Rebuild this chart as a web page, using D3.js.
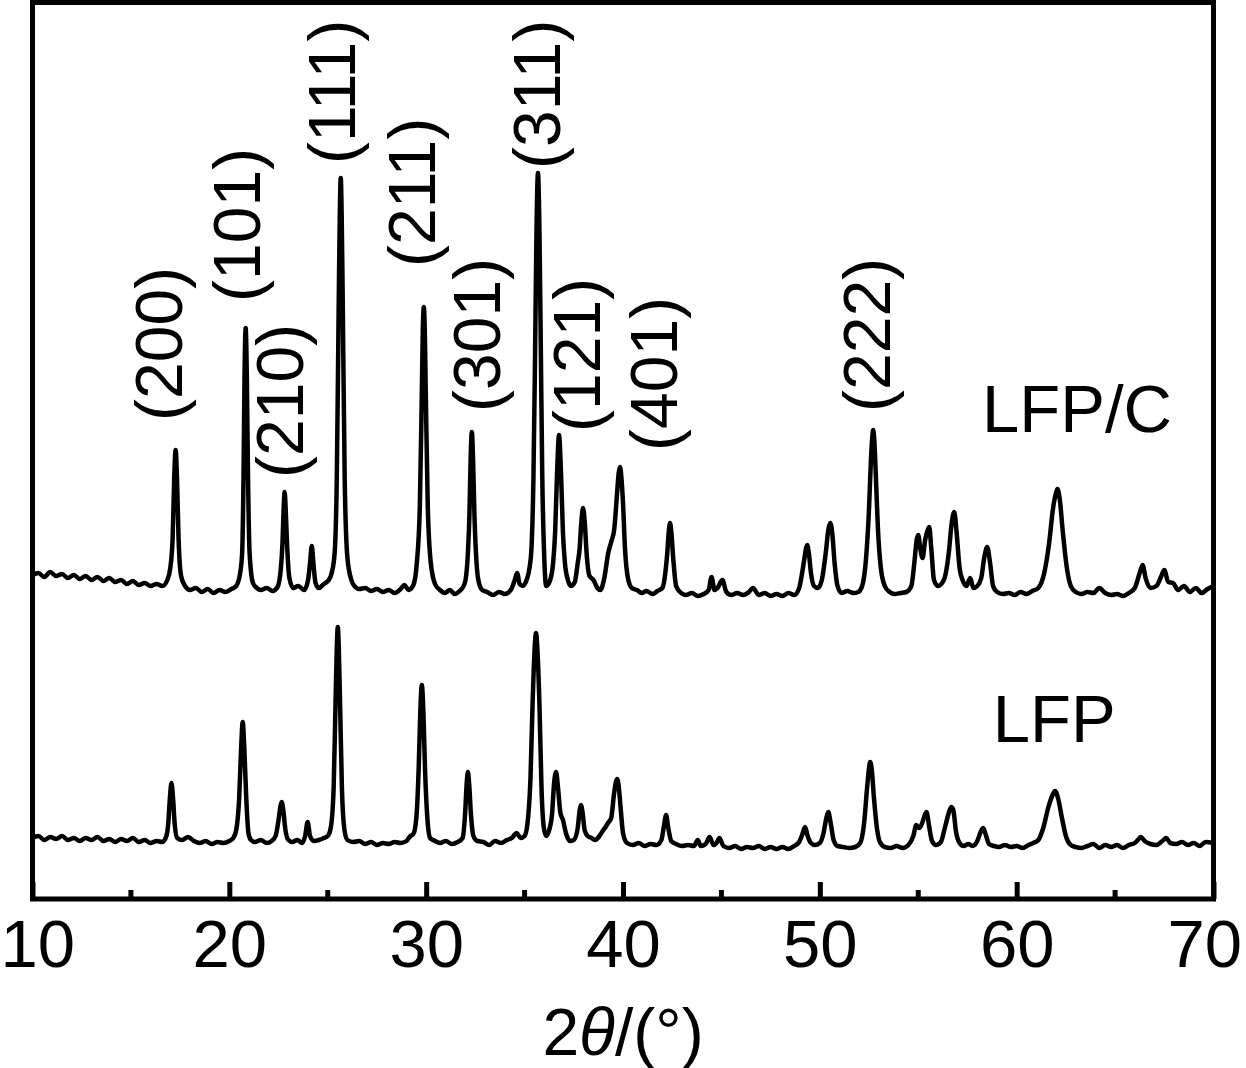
<!DOCTYPE html>
<html>
<head>
<meta charset="utf-8">
<script src="https://cdn.jsdelivr.net/npm/d3@7"></script>
<style>
  body { margin: 0; background: #fff; }
  text { font-family: "Liberation Sans", Arial, sans-serif; fill: #000; }
</style>
</head>
<body>
<svg id="chart" width="1246" height="1068"></svg>
<script>
// x axis ticks
var xTicks = [10, 20, 30, 40, 50, 60, 70];
var xMinorTicks = [15, 25, 35, 45, 55, 65];

// LFP/C pattern, [2theta, intensity a.u.] (already offset upward)
var lfpcData = [
  [10.0,323],[10.3,325],[10.6,321],[10.9,326],[11.2,322],[11.5,324],[11.8,320],[12.1,323],[12.4,319],[12.7,322],
  [13.0,318],[13.3,321],[13.6,317],[13.9,320],[14.2,316],[14.5,318],[14.8,314],[15.1,317],[15.4,313],[15.7,315],
  [16.0,312],[16.3,314],[16.6,312],[16.85,318],[17.0,330],[17.12,360],[17.2,420],[17.27,448],[17.34,420],[17.42,360],
  [17.55,322],[17.75,312],[18.0,308],[18.3,310],[18.6,306],[18.9,309],[19.2,305],[19.5,308],[19.8,306],[20.1,309],
  [20.35,312],[20.55,325],[20.65,345],[20.72,420],[20.77,520],[20.83,570],[20.89,520],[20.95,420],[21.03,345],[21.2,315],
  [21.4,310],[21.6,308],[21.9,310],[22.2,307],[22.45,311],[22.62,330],[22.7,355],[22.76,390],[22.81,406],[22.86,390],
  [22.93,355],[23.05,320],[23.25,310],[23.5,312],[23.8,308],[24.0,318],[24.1,335],[24.19,352],[24.27,335],[24.38,315],
  [24.55,310],[24.8,314],[25.05,318],[25.2,325],[25.35,345],[25.46,420],[25.56,600],[25.61,680],[25.66,720],[25.71,680],
  [25.76,600],[25.86,420],[26.0,340],[26.2,318],[26.4,311],[26.6,309],[26.9,310],[27.2,307],[27.5,309],[27.8,306],
  [28.1,308],[28.4,305],[28.7,309],[28.9,313],[29.1,308],[29.35,313],[29.53,336],[29.68,393],[29.78,506],[29.83,568],
  [29.88,591],[29.93,568],[29.98,506],[30.08,393],[30.23,336],[30.45,314],[30.7,308],[30.95,305],[31.2,308],[31.45,304],
  [31.7,307],[31.9,312],[32.0,318],[32.12,345],[32.2,385],[32.26,440],[32.32,466],[32.38,440],[32.45,385],[32.53,345],
  [32.65,318],[32.85,308],[33.1,306],[33.4,303],[33.7,306],[34.0,304],[34.3,308],[34.5,318],[34.62,325],[34.75,314],
  [34.9,312],[35.1,318],[35.25,330],[35.35,350],[35.45,420],[35.53,540],[35.6,660],[35.68,725],[35.76,660],[35.83,540],
  [35.9,420],[36.0,340],[36.1,312],[36.3,318],[36.45,335],[36.55,365],[36.65,425],[36.75,463],[36.85,425],[36.95,365],
  [37.05,335],[37.2,318],[37.35,312],[37.55,316],[37.7,335],[37.8,350],[37.88,375],[37.97,390],[38.06,375],[38.15,345],
  [38.3,322],[38.5,318],[38.7,310],[38.85,308],[39.05,320],[39.25,345],[39.4,356],[39.55,368],[39.7,405],[39.78,425],
  [39.85,431],[39.92,420],[40.0,395],[40.1,350],[40.25,320],[40.45,310],[40.7,308],[40.95,305],[41.2,307],[41.5,304],
  [41.75,307],[42.0,310],[42.15,325],[42.25,345],[42.32,365],[42.39,375],[42.46,365],[42.55,340],[42.7,312],[42.9,306],
  [43.2,303],[43.5,305],[43.8,302],[44.1,304],[44.35,308],[44.5,321],[44.65,308],[44.8,310],[45.05,318],[45.25,306],
  [45.5,303],[45.8,305],[46.1,303],[46.4,306],[46.6,310],[46.9,303],[47.2,305],[47.5,302],[47.8,304],[48.1,302],
  [48.4,305],[48.7,303],[48.95,310],[49.1,325],[49.22,340],[49.3,350],[49.36,353],[49.44,345],[49.55,325],[49.7,312],
  [49.9,310],[50.1,318],[50.3,345],[50.43,368],[50.53,375],[50.63,365],[50.75,335],[50.9,312],[51.1,305],[51.4,307],
  [51.7,305],[51.95,306],[52.15,312],[52.35,340],[52.5,390],[52.6,440],[52.67,462],[52.71,468],[52.76,460],[52.85,420],
  [52.95,370],[53.1,330],[53.3,312],[53.55,306],[53.8,304],[54.1,305],[54.4,306],[54.65,312],[54.8,335],[54.92,358],
  [55.0,363],[55.1,350],[55.22,340],[55.35,358],[55.48,368],[55.56,371],[55.66,350],[55.8,318],[56.0,312],[56.3,318],
  [56.55,345],[56.7,375],[56.83,386],[56.95,365],[57.1,330],[57.25,318],[57.45,312],[57.64,320],[57.8,310],[58.0,312],
  [58.2,320],[58.35,340],[58.5,351],[58.65,335],[58.8,312],[59.0,306],[59.3,304],[59.6,305],[59.9,303],[60.2,306],
  [60.5,304],[60.8,307],[61.1,310],[61.4,325],[61.65,355],[61.85,390],[62.0,405],[62.07,409],[62.18,400],[62.35,365],
  [62.55,330],[62.75,312],[63.0,306],[63.3,304],[63.6,306],[63.9,305],[64.2,310],[64.5,305],[64.8,303],[65.1,304],
  [65.4,302],[65.7,305],[66.0,310],[66.25,325],[66.4,333],[66.55,320],[66.8,310],[67.1,312],[67.35,322],[67.5,328],
  [67.7,316],[67.95,315],[68.2,308],[68.5,312],[68.8,306],[69.1,310],[69.4,305],[69.7,309],[70.0,312]
];

// LFP pattern
var lfpData = [
  [10.0,60],[10.3,62],[10.6,58],[10.9,61],[11.2,59],[11.5,62],[11.8,58],[12.1,60],[12.4,57],[12.7,60],
  [13.0,58],[13.3,61],[13.6,57],[13.9,59],[14.2,56],[14.5,59],[14.8,57],[15.1,60],[15.4,56],[15.7,58],
  [16.0,55],[16.3,57],[16.6,56],[16.8,62],[16.9,75],[16.98,100],[17.06,115],[17.14,100],[17.22,75],[17.35,60],
  [17.6,58],[17.9,61],[18.2,57],[18.5,55],[18.8,57],[19.1,54],[19.4,56],[19.7,55],[20.0,57],[20.2,60],
  [20.35,68],[20.5,100],[20.6,150],[20.68,176],[20.76,150],[20.86,100],[20.97,65],[21.1,58],[21.3,56],[21.6,58],
  [21.9,55],[22.15,57],[22.35,62],[22.5,78],[22.6,92],[22.66,96],[22.74,88],[22.85,68],[23.0,58],[23.2,56],
  [23.45,58],[23.7,55],[23.85,62],[23.98,76],[24.1,62],[24.3,57],[24.55,58],[24.8,60],[25.0,62],[25.15,70],
  [25.3,110],[25.4,200],[25.46,250],[25.51,271],[25.56,250],[25.62,200],[25.72,110],[25.85,68],[26.0,58],[26.3,56],
  [26.6,57],[26.9,54],[27.2,56],[27.5,53],[27.8,55],[28.1,54],[28.4,56],[28.7,55],[29.0,57],[29.2,62],
  [29.35,64],[29.5,80],[29.62,130],[29.7,185],[29.78,213],[29.86,185],[29.94,130],[30.06,80],[30.2,60],[30.45,57],
  [30.7,55],[31.0,57],[31.3,54],[31.6,56],[31.85,60],[31.98,85],[32.06,115],[32.12,126],[32.18,115],[32.27,85],
  [32.4,62],[32.6,57],[32.9,56],[33.2,53],[33.5,57],[33.8,55],[34.1,58],[34.35,60],[34.6,65],[34.8,60],
  [35.0,62],[35.15,75],[35.3,120],[35.4,190],[35.5,245],[35.58,265],[35.66,245],[35.76,190],[35.86,110],[35.98,70],
  [36.1,62],[36.25,68],[36.4,85],[36.5,115],[36.6,126],[36.7,110],[36.82,85],[36.95,78],[37.1,65],[37.3,57],
  [37.5,58],[37.7,70],[37.8,88],[37.86,93],[37.95,85],[38.05,68],[38.2,62],[38.4,60],[38.6,58],[38.8,62],
  [39.0,68],[39.15,72],[39.24,75],[39.4,80],[39.55,105],[39.65,117],[39.7,119],[39.78,112],[39.88,90],[40.0,65],
  [40.2,55],[40.5,53],[40.8,55],[41.1,52],[41.4,54],[41.7,53],[41.95,58],[42.08,72],[42.19,83],[42.3,70],
  [42.45,57],[42.7,54],[43.0,52],[43.3,53],[43.6,52],[43.8,58],[43.95,52],[44.2,54],[44.4,61],[44.6,53],
  [44.75,55],[44.9,60],[45.1,52],[45.4,50],[45.7,52],[46.0,49],[46.3,51],[46.6,50],[46.9,52],[47.2,49],
  [47.5,51],[47.8,49],[48.1,51],[48.4,49],[48.7,52],[48.95,56],[49.1,63],[49.25,71],[49.38,62],[49.55,55],
  [49.75,53],[50.0,55],[50.2,66],[50.33,80],[50.43,86],[50.55,75],[50.7,58],[50.9,52],[51.2,51],[51.5,50],
  [51.8,51],[52.05,55],[52.25,75],[52.4,110],[52.5,130],[52.56,136],[52.64,128],[52.75,100],[52.9,70],[53.05,56],
  [53.3,51],[53.6,50],[53.9,52],[54.2,50],[54.5,53],[54.75,62],[54.9,73],[55.05,70],[55.2,75],[55.35,84],
  [55.42,86],[55.55,72],[55.7,57],[55.9,53],[56.15,56],[56.35,70],[56.55,85],[56.68,91],[56.78,88],[56.92,66],
  [57.1,55],[57.3,52],[57.55,54],[57.75,52],[58.0,57],[58.15,65],[58.3,70],[58.45,62],[58.6,54],[58.85,52],
  [59.1,51],[59.4,53],[59.7,51],[60.0,52],[60.3,50],[60.6,53],[60.85,55],[61.1,58],[61.35,70],[61.6,90],
  [61.8,102],[61.95,107],[62.1,100],[62.3,80],[62.5,62],[62.75,53],[63.0,51],[63.3,50],[63.6,52],[63.9,54],
  [64.2,50],[64.5,53],[64.8,51],[65.1,53],[65.4,50],[65.7,53],[66.0,55],[66.2,59],[66.3,61],[66.5,57],
  [66.8,54],[67.1,53],[67.4,57],[67.6,60],[67.8,55],[68.1,54],[68.4,56],[68.7,53],[69.0,55],[69.3,52],
  [69.6,56],[70.0,55]
];

// Miller index labels and where they sit (2theta of text baseline, intensity of text start)
var peakLabels = ["(200)", "(101)", "(210)", "(111)", "(211)", "(301)", "(311)", "(121)", "(401)", "(222)"];
var labelTheta = [17.58, 21.54, 23.73, 26.37, 30.44, 33.75, 36.80, 38.83, 42.75, 53.58];
var labelLevel = [477, 596, 420, 734, 631, 486, 729, 466, 447, 486];

var seriesNames = ["LFP/C", "LFP"];
var seriesNameTheta = [58.24, 58.79];
var seriesNameLevel = [466, 156];

var svg = d3.select("#chart");
var margin = {left: 32.5, right: 1213.5, top: 2.5, bottom: 899};

var x = d3.scaleLinear().domain([10, 70]).range([margin.left, margin.right]);
var y = d3.scaleLinear().domain([0, 896]).range([898, 2]);

var line = d3.line()
    .x(function(d) { return x(d[0]); })
    .y(function(d) { return y(d[1]); })
    .curve(d3.curveMonotoneX);

// curves
svg.append("g")
  .selectAll("path")
  .data([lfpcData, lfpData])
  .enter()
  .append("path")
    .attr("d", line)
    .attr("fill", "none")
    .attr("stroke", "#000")
    .attr("stroke-width", 4.5)
    .attr("stroke-linejoin", "round");

// bottom axis, ticks inward
var xAxis = svg.append("g")
    .attr("transform", "translate(0," + margin.bottom + ")")
    .call(d3.axisBottom(x).tickValues(xTicks).tickSizeInner(-17).tickSizeOuter(0).tickPadding(0));
xAxis.select(".domain").remove();
xAxis.selectAll(".tick line").attr("stroke", "#000").attr("stroke-width", 5);
xAxis.selectAll(".tick text")
    .attr("y", 68)
    .attr("dy", 0)
    .style("font-size", "67px")
    .style("font-family", "'Liberation Sans', Arial, sans-serif");
// keep the end labels inside the page, like the original
xAxis.selectAll(".tick text")
    .filter(function(d) { return d === xTicks[0]; })
    .attr("text-anchor", "start")
    .attr("x", -margin.left);
xAxis.selectAll(".tick text")
    .filter(function(d) { return d === xTicks[xTicks.length - 1]; })
    .attr("text-anchor", "end")
    .attr("x", 28);

svg.append("g")
  .selectAll("line")
  .data(xMinorTicks)
  .enter()
  .append("line")
    .attr("x1", function(d) { return x(d); })
    .attr("x2", function(d) { return x(d); })
    .attr("y1", margin.bottom)
    .attr("y2", margin.bottom - 9)
    .attr("stroke", "#000")
    .attr("stroke-width", 5);

// frame
svg.append("rect")
    .attr("x", margin.left)
    .attr("y", margin.top)
    .attr("width", margin.right - margin.left)
    .attr("height", margin.bottom - margin.top)
    .attr("fill", "none")
    .attr("stroke", "#000")
    .attr("stroke-width", 5);

// axis title
var title = svg.append("text")
    .attr("x", (margin.left + margin.right) / 2)
    .attr("y", 1055)
    .attr("text-anchor", "middle")
    .style("font-size", "66px");
title.append("tspan").text("2");
title.append("tspan").style("font-style", "italic").text("\u03B8");
title.append("tspan").text("/(\u00B0)");

// Miller indices, rotated
svg.append("g")
  .selectAll("text")
  .data(peakLabels)
  .enter()
  .append("text")
    .attr("transform", function(d, i) {
      return "translate(" + x(labelTheta[i]) + "," + y(labelLevel[i]) + ") rotate(-90)";
    })
    .attr("text-anchor", "start")
    .style("font-size", "66px")
    .text(function(d) { return d; });

// sample names
svg.append("g")
  .selectAll("text")
  .data(seriesNames)
  .enter()
  .append("text")
    .attr("x", function(d, i) { return x(seriesNameTheta[i]); })
    .attr("y", function(d, i) { return y(seriesNameLevel[i]); })
    .style("font-size", "67px")
    .text(function(d) { return d; });
</script>
</body>
</html>
